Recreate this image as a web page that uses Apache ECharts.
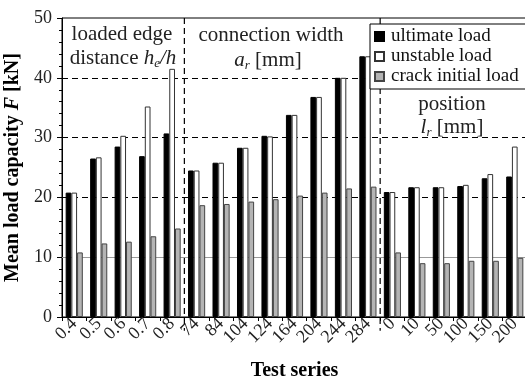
<!DOCTYPE html>
<html>
<head>
<meta charset="utf-8">
<script src="https://cdn.jsdelivr.net/npm/echarts@6/dist/echarts.min.js"></script>
<style>
  html, body { margin: 0; padding: 0; background: #fff; }
  #chart { width: 525px; height: 376px; }
</style>
</head>
<body>
<div id="chart"></div>
<script>
// test series (three groups: he/h, ar, lr)
const categories = ['0.4', '0.5', '0.6', '0.7', '0.8',
  '74', '84', '104', '124', '164', '204', '244', '284',
  '0', '10', '50', '100', '150', '200']
const ultimateLoad = [20.8, 26.5, 28.5, 26.9, 30.7,
  24.5, 25.8, 28.3, 30.3, 33.8, 36.8, 40.0, 43.6,
  20.9, 21.7, 21.7, 21.9, 23.2, 23.5]
const unstableLoad = [20.8, 26.7, 30.3, 35.2, 41.5,
  24.5, 25.8, 28.3, 30.2, 33.8, 36.8, 40.0, 43.6,
  20.9, 21.7, 21.7, 22.1, 23.9, 28.5]
const crackLoad = [10.8, 12.3, 12.6, 13.5, 14.8,
  18.7, 18.9, 19.3, 19.7, 20.3, 20.8, 21.5, 21.8,
  10.8, 9.0, 9.0, 9.4, 9.4, 9.9]
const yTicks = [0, 10, 20, 30, 40, 50]
const groupBounds = [4.5, 12.5]

const serif = 'Liberation Serif'
const chart = echarts.init(document.getElementById('chart'))

const dash = { color: '#000', type: [6, 4], width: 1.2 }

function subText (x, y, pre, it, sub, post) {
  return {
    type: 'text', x: x, y: y, z: 20,
    style: {
      text: pre + '{i|' + it + '}{s|' + sub + '}' + post,
      font: '21px "Liberation Serif"', fill: '#222', align: 'center', verticalAlign: 'middle',
      rich: {
        i: { fontFamily: serif, fontSize: 21, fontStyle: 'italic', fill: '#222' },
        s: { fontFamily: serif, fontSize: 13, fontStyle: 'italic', fill: '#222', padding: [11, 0, 0, 0] }
      }
    }
  }
}

function plainText (x, y, txt) {
  return {
    type: 'text', x: x, y: y, z: 20,
    style: { text: txt, font: '21px "Liberation Serif"', fill: '#222', align: 'center', verticalAlign: 'middle' }
  }
}

let separators = groupBounds.map(b => ({
  name: 'sep' + b,
  type: 'line',
  xAxisIndex: 1,
  yAxisIndex: 0,
  data: [[b, 50], [b, -2.3]],
  symbol: 'none',
  clip: false,
  silent: true,
  z: 1,
  lineStyle: dash
}))

let option = {
  animation: false,
  textStyle: { fontFamily: serif },
  grid: {
    left: 62,
    right: -2,
    top: 18,
    bottom: 59,
    outerBoundsMode: 'none',
    containLabel: false,
    show: true,
    borderColor: '#000',
    borderWidth: 1
  },
  legend: {
    orient: 'vertical',
    left: 370,
    top: 24,
    padding: [3, 8, 3, 4],
    itemGap: 1,
    itemWidth: 9,
    itemHeight: 9,
    icon: 'rect',
    backgroundColor: '#fff',
    borderColor: '#000',
    borderWidth: 1,
    textStyle: { fontFamily: serif, fontSize: 19, color: '#111', padding: [0, 0, 0, 2] },
    data: ['ultimate load', 'unstable load', 'crack initial load'],
    z: 10
  },
  xAxis: [{
    type: 'category',
    data: categories,
    name: 'Test series',
    nameLocation: 'middle',
    nameGap: 44,
    nameTextStyle: { fontFamily: serif, fontSize: 20, fontWeight: 'bold', color: '#000' },
    axisLine: { lineStyle: { color: '#000', width: 1 } },
    axisTick: { show: true, length: 4, interval: 0, lineStyle: { color: '#000' } },
    axisLabel: { interval: 0, rotate: 45, fontSize: 18, color: '#222', margin: 4, fontFamily: serif }
  }, {
    type: 'value',
    min: -0.5,
    max: 18.5,
    show: false
  }],
  yAxis: {
    type: 'value',
    min: 0,
    max: 50,
    interval: 10,
    name: '{b|Mean load capacity }{bi|F}{b| [kN]}',
    nameLocation: 'middle',
    nameRotate: 90,
    nameGap: 33,
    nameTextStyle: {
      rich: {
        b: { fontFamily: serif, fontSize: 20, fontWeight: 'bold', color: '#000' },
        bi: { fontFamily: serif, fontSize: 20, fontWeight: 'bold', fontStyle: 'italic', color: '#000' }
      }
    },
    axisLine: { show: true, onZero: false, lineStyle: { color: '#000', width: 1 } },
    axisTick: { show: true, length: 5, lineStyle: { color: '#000' } },
    minorTick: { show: true, splitNumber: 5, length: 3, lineStyle: { color: '#000' } },
    splitLine: { show: false },
    axisLabel: {
      fontSize: 18,
      color: '#222',
      margin: 10,
      fontFamily: serif,
      formatter: v => (yTicks.indexOf(v) >= 0 ? String(v) : '')
    }
  },
  graphic: [
    plainText(122, 34, 'loaded edge'),
    subText(123, 58, 'distance ', 'h', 'e', '{i|/h}'),
    plainText(271, 35, 'connection width'),
    subText(268, 60, '', 'a', 'r', ' [mm]'),
    plainText(452, 104, 'position'),
    subText(452, 127, '', 'l', 'r', ' [mm]')
  ],
  series: separators.concat([
    {
      // horizontal reference lines
      name: 'guides',
      type: 'line',
      xAxisIndex: 1,
      yAxisIndex: 0,
      data: [],
      z: 1,
      silent: true,
      markLine: {
        silent: true,
        symbol: 'none',
        z: 1,
        label: { show: false },
        data: [
          { yAxis: 10, lineStyle: { color: '#999', type: 'solid', width: 1 } },
          { yAxis: 20, lineStyle: dash },
          { yAxis: 30, lineStyle: dash },
          { yAxis: 40, lineStyle: dash }
        ]
      }
    },
    {
      name: 'ultimate load',
      type: 'bar',
      data: ultimateLoad,
      z: 2,
      barGap: '0%',
      barCategoryGap: '30%',
      itemStyle: { color: '#000', borderColor: '#000', borderWidth: 1 }
    },
    {
      name: 'unstable load',
      type: 'bar',
      data: unstableLoad,
      z: 2,
      itemStyle: { color: '#fff', borderColor: '#333', borderWidth: 1 }
    },
    {
      name: 'crack initial load',
      type: 'bar',
      data: crackLoad,
      z: 2,
      itemStyle: { color: '#b4b4b4', borderColor: '#444', borderWidth: 1 }
    }
  ])
}

chart.setOption(option)
</script>
</body>
</html>
